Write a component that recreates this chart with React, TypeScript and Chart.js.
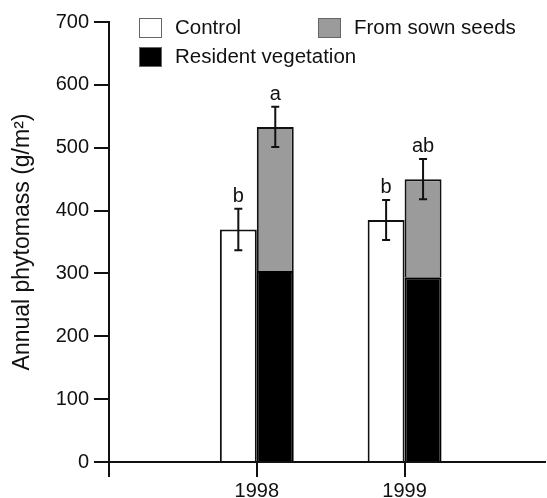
import React, { useEffect, useRef } from 'react';
import { Chart, registerables } from 'chart.js';

Chart.register(...registerables);

// ---- data ----
const years = [1998, 1999];
const xTickValues = [1997, 1998, 1999];
const xTickLabels = ['', '1998', '1999'];
const controlValues = [370, 385];
const residentValues = [304, 294];
const sownValues = [229, 156];
const controlErrors = [33, 32];
const totalErrors = [32, 32];
const controlLetters = ['b', 'b'];
const totalLetters = ['a', 'ab'];
const seriesLabels = ['Control', 'Resident vegetation', 'From sown seeds'];
const yAxisTitle = 'Annual phytomass (g/m\u00B2)';

const FONT = '"Liberation Sans", Arial, Helvetica, sans-serif';
const GREY = '#9b9b9b';
const INK = '#111111';

const annotatePlugin = {
  id: 'annotate',
  afterDatasetsDraw(chart: any) {
    const ctx = chart.ctx;
    const y = chart.scales.y;
    const cMeta = chart.getDatasetMeta(0);
    const sMeta = chart.getDatasetMeta(2);
    ctx.save();
    ctx.strokeStyle = INK;
    ctx.lineWidth = 2;
    ctx.fillStyle = INK;
    ctx.font = `20px ${FONT}`;
    ctx.textAlign = 'center';
    ctx.textBaseline = 'alphabetic';
    years.forEach((_yr, i) => {
      const items = [
        { x: cMeta.data[i].x, v: controlValues[i], e: controlErrors[i], l: controlLetters[i] },
        { x: sMeta.data[i].x, v: residentValues[i] + sownValues[i], e: totalErrors[i], l: totalLetters[i] },
      ];
      for (const it of items) {
        const top = y.getPixelForValue(it.v + it.e);
        const bot = y.getPixelForValue(it.v - it.e);
        ctx.beginPath();
        ctx.moveTo(it.x, top);
        ctx.lineTo(it.x, bot);
        ctx.moveTo(it.x - 4, top);
        ctx.lineTo(it.x + 4, top);
        ctx.moveTo(it.x - 4, bot);
        ctx.lineTo(it.x + 4, bot);
        ctx.stroke();
        ctx.fillText(it.l, it.x, top - 7);
      }
    });
    ctx.restore();
  },
};

const legendPlugin = {
  id: 'customLegend',
  afterDraw(chart: any) {
    const ctx = chart.ctx;
    const ds = chart.data.datasets;
    const entries = [
      { label: ds[0].label, fill: '#ffffff', x: 139, y: 18 },
      { label: ds[2].label, fill: GREY, x: 318, y: 18 },
      { label: ds[1].label, fill: '#000000', x: 139, y: 47 },
    ];
    ctx.save();
    ctx.font = `20.5px ${FONT}`;
    ctx.textAlign = 'left';
    ctx.textBaseline = 'alphabetic';
    for (const e of entries) {
      ctx.fillStyle = e.fill;
      ctx.fillRect(e.x, e.y, 23, 20);
      ctx.strokeStyle = '#666666';
      ctx.lineWidth = 1;
      ctx.strokeRect(e.x + 0.5, e.y + 0.5, 22, 19);
      ctx.fillStyle = INK;
      ctx.fillText(e.label, e.x + 36, e.y + 16);
    }
    ctx.restore();
  },
};

export default function App() {
  const ref = useRef<HTMLCanvasElement | null>(null);

  useEffect(() => {
    if (!ref.current) return;
    const chart = new Chart(ref.current, {
      type: 'bar',
      data: {
        datasets: [
          {
            label: seriesLabels[0],
            data: years.map((x, i) => ({ x, y: controlValues[i] })),
            backgroundColor: '#ffffff',
            borderColor: INK,
            borderWidth: 2,
            stack: 'control',
          },
          {
            label: seriesLabels[1],
            data: years.map((x, i) => ({ x, y: residentValues[i] })),
            backgroundColor: '#000000',
            borderColor: '#000000',
            borderWidth: 2,
            stack: 'treated',
          },
          {
            label: seriesLabels[2],
            data: years.map((x, i) => ({ x, y: sownValues[i] })),
            backgroundColor: GREY,
            borderColor: INK,
            borderWidth: 2,
            stack: 'treated',
          },
        ],
      },
      options: {
        responsive: false,
        animation: false,
        events: [],
        categoryPercentage: 0.5,
        barPercentage: 1,
        layout: { padding: { left: 0, right: 2, top: 22, bottom: 0 } },
        plugins: {
          legend: { display: false },
          tooltip: { enabled: false },
        },
        scales: {
          x: {
            type: 'linear',
            offset: false,
            min: 1997,
            max: 1999.95,
            afterBuildTicks: (axis: any) => {
              axis.ticks = xTickValues.map((v) => ({ value: v }));
            },
            afterFit: (axis: any) => {
              axis.height = 36;
            },
            ticks: {
              autoSkip: false,
              maxRotation: 0,
              padding: 2,
              color: INK,
              font: { family: FONT, size: 20 },
              callback: (v: any) => {
                const idx = xTickValues.indexOf(Number(v));
                return idx >= 0 ? xTickLabels[idx] : '';
              },
            },
            grid: {
              drawOnChartArea: false,
              drawTicks: true,
              tickLength: 15,
              tickWidth: 2,
              tickColor: INK,
              lineWidth: 2,
              color: INK,
              offset: false,
            },
            border: { display: true, color: INK, width: 2 },
          },
          y: {
            type: 'linear',
            stacked: true,
            min: 0,
            max: 700,
            afterFit: (axis: any) => {
              axis.width = 109;
            },
            ticks: {
              stepSize: 100,
              padding: 5,
              color: INK,
              font: { family: FONT, size: 20 },
            },
            grid: {
              drawOnChartArea: false,
              drawTicks: true,
              tickLength: 15,
              tickWidth: 2,
              tickColor: INK,
              lineWidth: 2,
              color: INK,
            },
            border: { display: true, color: INK, width: 2 },
            title: {
              display: true,
              text: yAxisTitle,
              color: INK,
              font: { family: FONT, size: 23 },
              padding: { top: 9, bottom: 0 },
            },
          },
        },
      },
      plugins: [annotatePlugin, legendPlugin],
    } as any);
    return () => chart.destroy();
  }, []);

  return (
    <div style={{ position: 'absolute', left: 0, top: 0, width: 547, height: 498, background: '#fff' }}>
      <canvas ref={ref} width={547} height={498} />
    </div>
  );
}
